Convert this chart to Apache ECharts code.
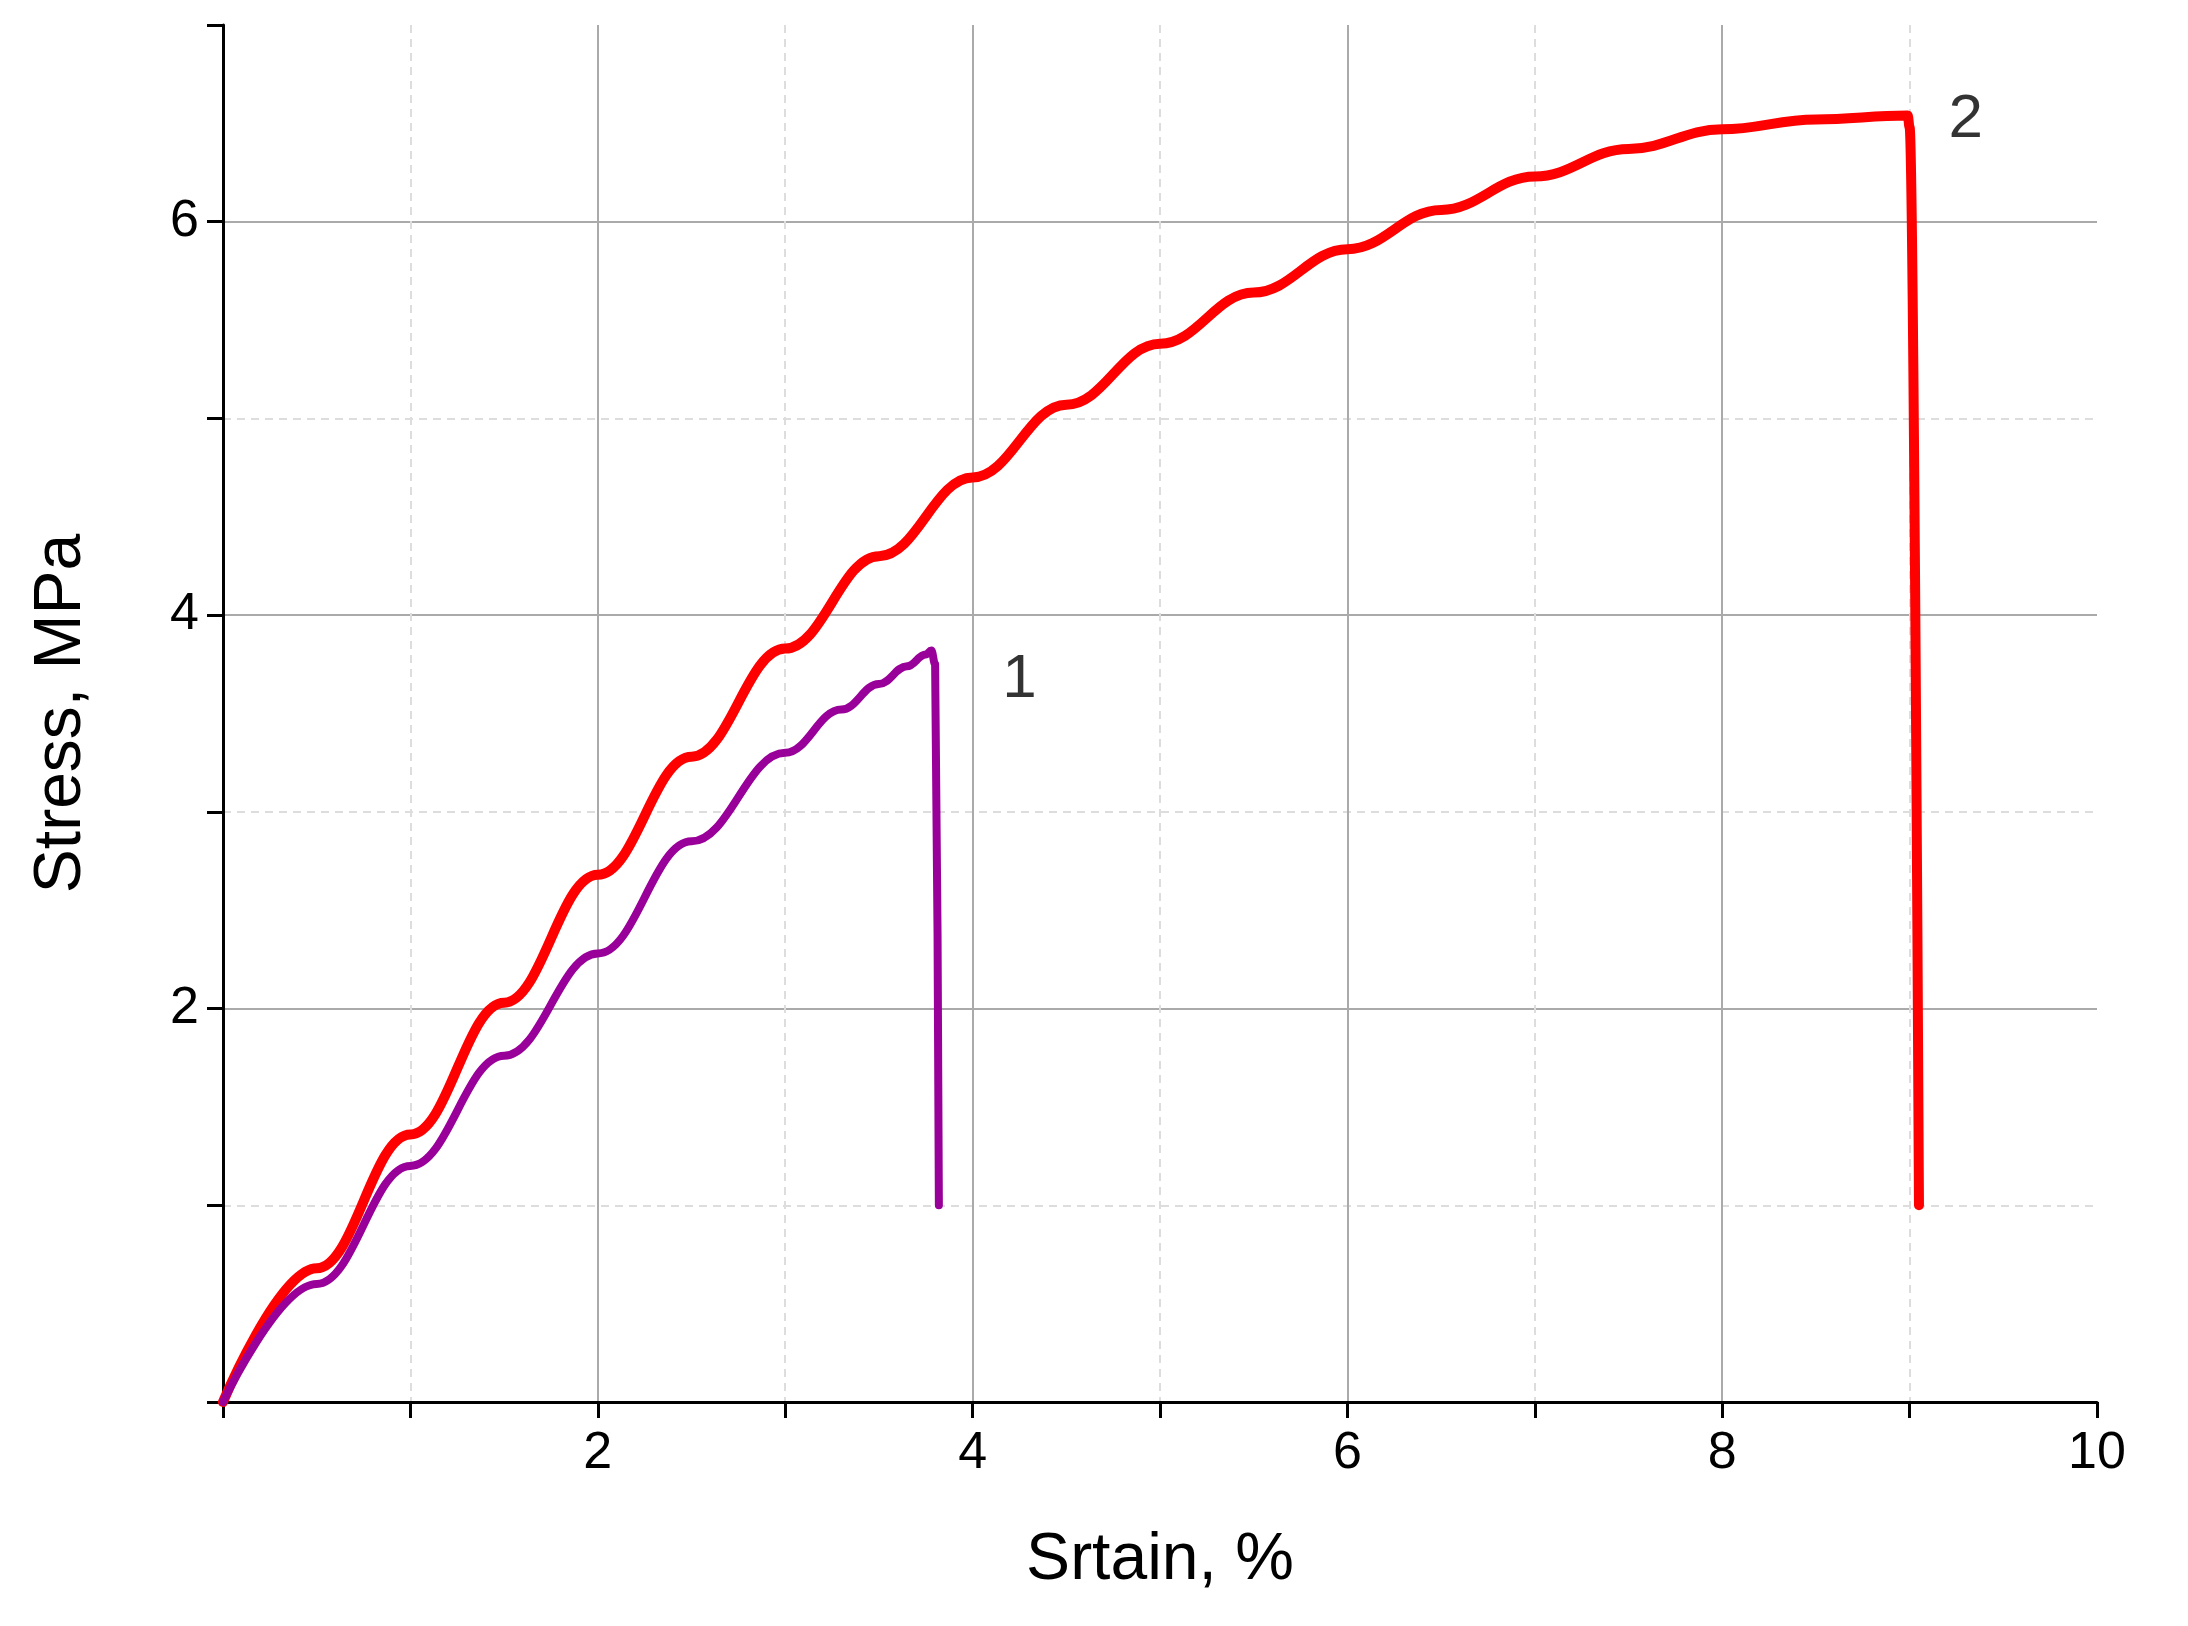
<!DOCTYPE html>
<html><head><meta charset="utf-8">
<script src="https://cdn.jsdelivr.net/npm/echarts@6/dist/echarts.min.js"></script>
<style>html,body{margin:0;padding:0;background:#fff}#c{width:2188px;height:1626px}</style>
</head><body><div id="c"></div>
<script>
const strain1 = [0, 0.5, 1, 1.5, 2, 2.5, 3, 3.3, 3.5, 3.65, 3.75, 3.78, 3.8, 3.82];
const stress1 = [0, 0.6, 1.2, 1.76, 2.28, 2.85, 3.3, 3.52, 3.65, 3.74, 3.8, 3.82, 3.75, 1.0];
const strain2 = [0, 0.5, 1, 1.5, 2, 2.5, 3, 3.5, 4, 4.5, 5, 5.5, 6, 6.5, 7, 7.5, 8, 8.5, 8.99, 9.0, 9.05];
const stress2 = [0, 0.68, 1.36, 2.03, 2.68, 3.28, 3.83, 4.3, 4.7, 5.07, 5.38, 5.64, 5.86, 6.06, 6.23, 6.37, 6.47, 6.52, 6.54, 6.48, 1.0];
const labels = [{name:'1', x:4.25, y:3.67}, {name:'2', x:9.3, y:6.52}];

const pair = (xs, ys) => xs.map((x, i) => [x, ys[i]]);
const font = 'Liberation Sans, Arial, sans-serif';
const chart = echarts.init(document.getElementById('c'));
chart.setOption({
  backgroundColor: '#fff',
  animation: false,
  grid: {left: 223, right: 91, top: 25, bottom: 224},
  xAxis: {
    type: 'value', min: 0, max: 10, interval: 2,
    name: 'Srtain, %', nameLocation: 'middle', nameGap: 126,
    nameTextStyle: {fontFamily: font, fontSize: 66, color: '#000'},
    axisLine: {lineStyle: {color: '#000', width: 3}},
    axisTick: {show: true, length: 16, lineStyle: {color: '#000', width: 3}},
    minorTick: {show: true, splitNumber: 2, length: 16, lineStyle: {color: '#000', width: 3}},
    axisLabel: {fontFamily: font, fontSize: 52, color: '#000', margin: 26, formatter: v => v === 0 ? '' : v},
    splitLine: {show: true, showMaxLine: false, lineStyle: {color: '#aaa', width: 2}},
    minorSplitLine: {show: true, lineStyle: {color: '#ddd', width: 2, type: [8, 6]}}
  },
  yAxis: {
    type: 'value', min: 0, max: 7, interval: 2,
    name: 'Stress, MPa', nameLocation: 'middle', nameGap: 128,
    nameTextStyle: {fontFamily: font, fontSize: 66, color: '#000'},
    axisLine: {show: true, lineStyle: {color: '#000', width: 3}},
    axisTick: {show: true, length: 16, lineStyle: {color: '#000', width: 3}},
    minorTick: {show: true, splitNumber: 2, length: 16, lineStyle: {color: '#000', width: 3}},
    axisLabel: {fontFamily: font, fontSize: 52, color: '#000', margin: 24, showMaxLabel: false, formatter: v => (v === 0 || v === 7) ? '' : v},
    splitLine: {show: true, showMaxLine: false, lineStyle: {color: '#aaa', width: 2}},
    minorSplitLine: {show: true, lineStyle: {color: '#ddd', width: 2, type: [8, 6]}}
  },
  series: [
    {type: 'line', data: pair(strain2, stress2), showSymbol: false, smooth: 0.4, smoothMonotone: 'x',
     lineStyle: {color: '#ff0000', width: 10, cap: 'round', join: 'round'}},
    {type: 'line', data: pair(strain1, stress1), showSymbol: false, smooth: 0.4, smoothMonotone: 'x',
     lineStyle: {color: '#990099', width: 8, cap: 'round', join: 'round'}},
    {type: 'scatter', symbolSize: 0, silent: true, data: labels.map(l => ({name: l.name, value: [l.x, l.y]})),
     label: {show: true, position: 'inside', formatter: p => p.name, fontFamily: font, fontSize: 62, color: '#000'}}
  ]
});
</script></body></html>
